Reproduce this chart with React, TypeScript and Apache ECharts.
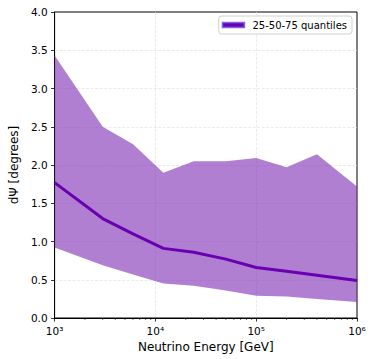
import React, { useEffect, useRef } from "react";
import * as echarts from "echarts";

const energies = [1e3, 3e3, 6e3, 1.2e4, 2.4e4, 5e4, 1e5, 2e5, 4e5, 1e6];
const q25 = [0.92, 0.69, 0.57, 0.45, 0.42, 0.36, 0.29, 0.28, 0.25, 0.21];
const q50 = [1.77, 1.3, 1.1, 0.91, 0.86, 0.77, 0.66, 0.61, 0.56, 0.49];
const q75 = [3.43, 2.5, 2.27, 1.9, 2.05, 2.05, 2.09, 1.97, 2.14, 1.72];
const minorTicks = [
  2e3, 3e3, 4e3, 5e3, 6e3, 7e3, 8e3, 9e3,
  2e4, 3e4, 4e4, 5e4, 6e4, 7e4, 8e4, 9e4,
  2e5, 3e5, 4e5, 5e5, 6e5, 7e5, 8e5, 9e5,
];
const legendLabel = "25-50-75 quantiles";
const sup: Record<string, string> = { "3": "³", "4": "⁴", "5": "⁵", "6": "⁶" };

export default function App() {
  const ref = useRef<HTMLDivElement>(null);
  useEffect(() => {
    if (!ref.current) return;
    const chart = echarts.init(ref.current, null, { renderer: "svg" });
    const font = "DejaVu Sans";
    const gridLine = {
      show: true,
      showMinLine: false,
      showMaxLine: false,
      lineStyle: { color: "#e2e2e2", type: [3, 1.5], width: 0.7 },
    };
    chart.setOption({
      animation: false,
      textStyle: { fontFamily: font },
      grid: {
        left: 47,
        right: 17,
        top: 12,
        bottom: 41,
        show: true,
        borderColor: "#000",
        borderWidth: 1,
        backgroundColor: "transparent",
      },
      legend: {
        right: 22,
        top: 16,
        data: [{ name: legendLabel }],
        icon: "rect",
        itemWidth: 22,
        itemHeight: 5,
        itemGap: 0,
        padding: [4, 5, 4, 3],
        backgroundColor: "#fff",
        borderColor: "#d0d0d0",
        borderWidth: 1,
        borderRadius: 3,
        textStyle: { fontFamily: font, fontSize: 10, color: "#000", padding: [0, 0, 0, 3] },
        itemStyle: { color: "#6a00b0", borderColor: "#7b68ee", borderWidth: 1.5 },
      },
      xAxis: {
        type: "log",
        logBase: 10,
        min: 1e3,
        max: 1e6,
        name: "Neutrino Energy [GeV]",
        nameLocation: "middle",
        nameGap: 22,
        nameTextStyle: { fontFamily: font, fontSize: 12, color: "#000" },
        axisLine: { lineStyle: { color: "#000", width: 1 } },
        axisTick: { show: true, length: 3.5, lineStyle: { color: "#000", width: 0.8 } },
        axisLabel: {
          fontFamily: font,
          fontSize: 10.5,
          color: "#000",
          margin: 7,
          formatter: (v: number) => "10" + (sup[String(Math.round(Math.log10(v)))] || ""),
        },
        splitLine: gridLine,
      },
      yAxis: {
        type: "value",
        min: 0,
        max: 4,
        interval: 0.5,
        name: "dΨ [degrees]",
        nameLocation: "middle",
        nameGap: 31,
        nameTextStyle: { fontFamily: font, fontSize: 12, color: "#000" },
        axisLine: { show: true, lineStyle: { color: "#000", width: 1 } },
        axisTick: { show: true, length: 3.5, lineStyle: { color: "#000", width: 0.8 } },
        axisLabel: {
          fontFamily: font,
          fontSize: 10.5,
          color: "#000",
          margin: 7,
          formatter: (v: number) => v.toFixed(1),
        },
        splitLine: gridLine,
      },
      series: [
        {
          name: "band",
          type: "custom",
          silent: true,
          data: energies.map((e, i) => [e, q25[i], q75[i]]),
          renderItem: (params: any, api: any) => {
            if (params.dataIndex !== 0) return null;
            const upper = energies.map((e, i) => api.coord([e, q75[i]]));
            const lower = energies.map((e, i) => api.coord([e, q25[i]])).reverse();
            return {
              type: "polygon",
              shape: { points: upper.concat(lower) },
              style: { fill: "rgba(123,42,180,0.6)", stroke: "none" },
            };
          },
          z: 1,
        },
        {
          name: legendLabel,
          type: "line",
          symbol: "none",
          lineStyle: { color: "#6a00b0", width: 3 },
          itemStyle: { color: "#6a00b0" },
          data: energies.map((e, i) => [e, q50[i]]),
          z: 3,
        },
        {
          name: "minor",
          type: "custom",
          clip: false,
          silent: true,
          data: minorTicks.map((v) => [v, 0]),
          renderItem: (_p: any, api: any) => {
            const pt = api.coord([api.value(0), 0]);
            return {
              type: "line",
              shape: { x1: pt[0], y1: pt[1], x2: pt[0], y2: pt[1] + 2 },
              style: { stroke: "#000", lineWidth: 0.6 },
            };
          },
          z: 4,
        },
      ],
    });
    return () => chart.dispose();
  }, []);
  return <div ref={ref} style={{ width: 374, height: 359, position: "absolute", left: 0, top: 0 }} />;
}
